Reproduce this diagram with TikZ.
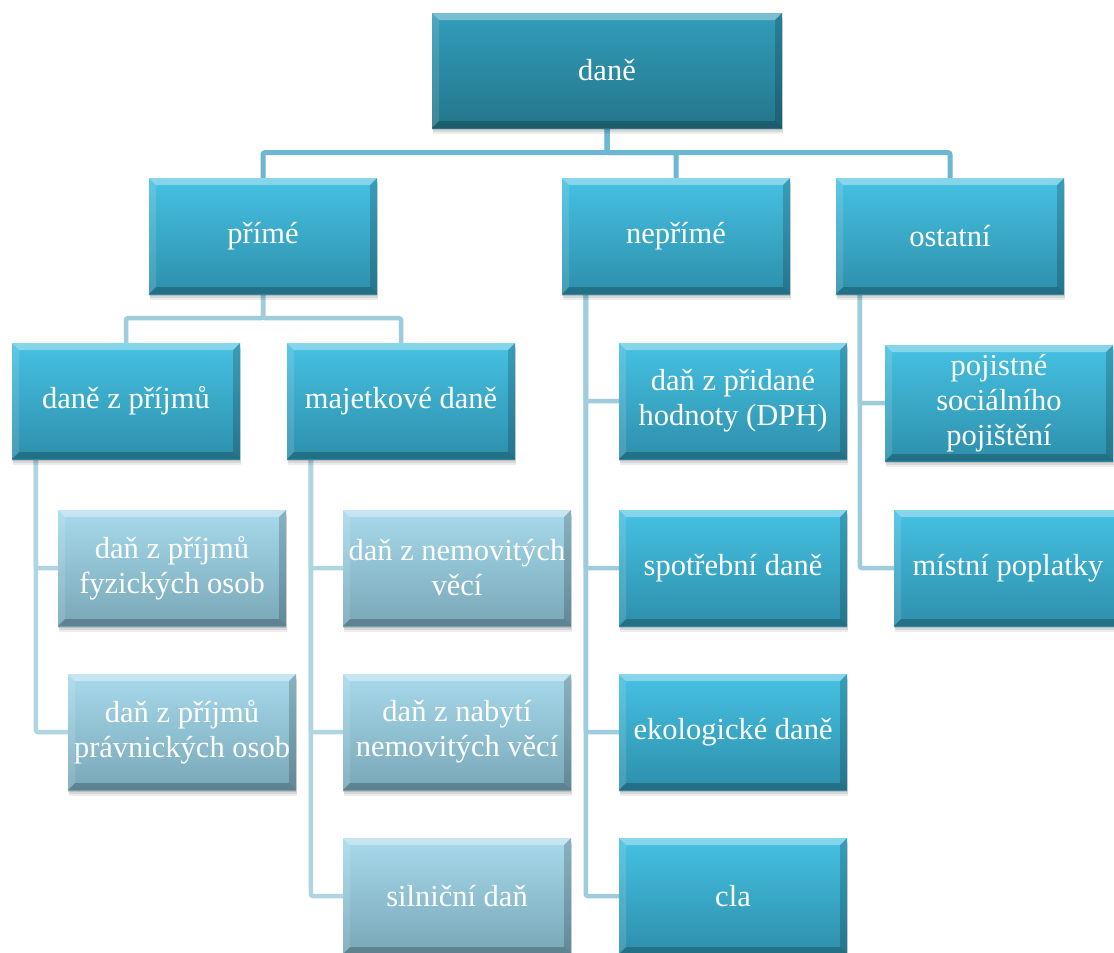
\documentclass[tikz,border=0pt]{standalone}
\usepackage{fontspec}
\setmainfont{Liberation Serif}
\pgfdeclarelayer{bg}
\pgfdeclarelayer{lines}
\pgfsetlayers{bg,lines,main}

\definecolor{darkTop}{HTML}{329DBA}
\definecolor{darkBot}{HTML}{24768A}
\definecolor{midTop}{HTML}{46C1E3}
\definecolor{midBot}{HTML}{2D8FAB}
\definecolor{paleTop}{HTML}{A7DAEC}
\definecolor{paleBot}{HTML}{78A7B7}
\definecolor{lineA}{HTML}{6CB8D2}
\definecolor{lineB}{HTML}{9ECCDC}
\definecolor{lineC}{HTML}{B0D5E2}

\tikzset{
  bevel/.style={path picture={
    \fill[white,opacity=.35] (path picture bounding box.north west) -- (path picture bounding box.north east)
      -- ([xshift=-7pt,yshift=-7pt]path picture bounding box.north east) -- ([xshift=7pt,yshift=-7pt]path picture bounding box.north west) -- cycle;
    \fill[white,opacity=.12] (path picture bounding box.north west) -- (path picture bounding box.south west)
      -- ([xshift=7pt,yshift=7pt]path picture bounding box.south west) -- ([xshift=7pt,yshift=-7pt]path picture bounding box.north west) -- cycle;
    \fill[black,opacity=.18] (path picture bounding box.north east) -- (path picture bounding box.south east)
      -- ([xshift=-7pt,yshift=7pt]path picture bounding box.south east) -- ([xshift=-7pt,yshift=-7pt]path picture bounding box.north east) -- cycle;
    \fill[black,opacity=.22] (path picture bounding box.south west) -- (path picture bounding box.south east)
      -- ([xshift=-7pt,yshift=7pt]path picture bounding box.south east) -- ([xshift=7pt,yshift=7pt]path picture bounding box.south west) -- cycle;
  }},
  softshadow/.style={
    preaction={fill=black, opacity=.07, transform canvas={xshift=1pt, yshift=-6pt}},
    preaction={fill=black, opacity=.09, transform canvas={xshift=1pt, yshift=-4pt}},
    preaction={fill=black, opacity=.12, transform canvas={yshift=-2pt}}},
  taxbox/.style={rectangle, inner sep=0pt, minimum width=228pt, minimum height=116pt,
    align=center, text=white, font=\fontsize{30.5}{35}\selectfont, bevel, softshadow},
  darkbox/.style={taxbox, top color=darkTop, bottom color=darkBot},
  midbox/.style={taxbox, top color=midTop, bottom color=midBot},
  palebox/.style={taxbox, top color=paleTop, bottom color=paleBot},
  linkA/.style={draw=lineA, line width=5pt, rounded corners=2pt},
  linkB/.style={draw=lineB, line width=4.5pt, rounded corners=2pt},
  linkC/.style={draw=lineC, line width=4.5pt, rounded corners=2pt},
}

\begin{document}
\begin{tikzpicture}[x=1pt,y=-1pt]
\begin{pgfonlayer}{bg}
  \fill[white] (0,0) rectangle (1114,953);
\end{pgfonlayer}
\useasboundingbox (0,0) rectangle (1114,953);

% top node
\node[darkbox, minimum width=350pt, minimum height=115pt] (dane) at (607,70.5) {daně};

% second row
\node[midbox] (prime)   at (263,236) {přímé};
\node[midbox] (neprime) at (676,236) {nepřímé};
\node[midbox] (ostatni) at (950,236) {ostatní};

% third row
\node[midbox] (dzp) at (126,401) {daně z příjmů};
\node[midbox] (maj) at (401,401) {majetkové daně};
\node[midbox] (dph) at (733,401) {daň z přidané\\hodnoty (DPH)};
\node[midbox] (poj) at (999,403) {pojistné\\sociálního\\pojištění};

% income taxes
\node[palebox] (fyz)  at (172,568) {daň z příjmů\\fyzických osob};
\node[palebox] (prav) at (182,732) {daň z příjmů\\právnických osob};

% property taxes
\node[palebox] (nem)  at (457,568) {daň z nemovitých\\věcí};
\node[palebox] (nab)  at (457,732) {daň z nabytí\\nemovitých věcí};
\node[palebox] (siln) at (457,896) {silniční daň};

% indirect taxes
\node[midbox] (spotr) at (733,568) {spotřební daně};
\node[midbox] (eko)   at (733,732) {ekologické daně};
\node[midbox] (cla)   at (733,896) {cla};

% other
\node[midbox] (mist) at (1008,568) {místní poplatky};

\begin{pgfonlayer}{lines}
  \path[linkA] (dane.south) -- ++(0,24.5) -| (prime.north);
  \path[linkA] (dane.south) -- ++(0,24.5) -| (ostatni.north);
  \path[linkA] (dane.south) -- ++(0,24.5) -| (neprime.north);

  \path[linkB] (prime.south) -- ++(0,24) -| (dzp.north);
  \path[linkB] (prime.south) -- ++(0,24) -| (maj.north);

  \path[linkC] ([xshift=24pt]dzp.south west) |- (fyz.west);
  \path[linkC] ([xshift=24pt]dzp.south west) |- (prav.west);

  \path[linkC] ([xshift=24pt]maj.south west) |- (nem.west);
  \path[linkC] ([xshift=24pt]maj.south west) |- (nab.west);
  \path[linkC] ([xshift=24pt]maj.south west) |- (siln.west);

  \path[linkB] ([xshift=24pt]neprime.south west) |- (dph.west);
  \path[linkB] ([xshift=24pt]neprime.south west) |- (spotr.west);
  \path[linkB] ([xshift=24pt]neprime.south west) |- (eko.west);
  \path[linkB] ([xshift=24pt]neprime.south west) |- (cla.west);

  \path[linkB] ([xshift=24pt]ostatni.south west) |- (poj.west);
  \path[linkB] ([xshift=24pt]ostatni.south west) |- (mist.west);
\end{pgfonlayer}
\end{tikzpicture}
\end{document}
